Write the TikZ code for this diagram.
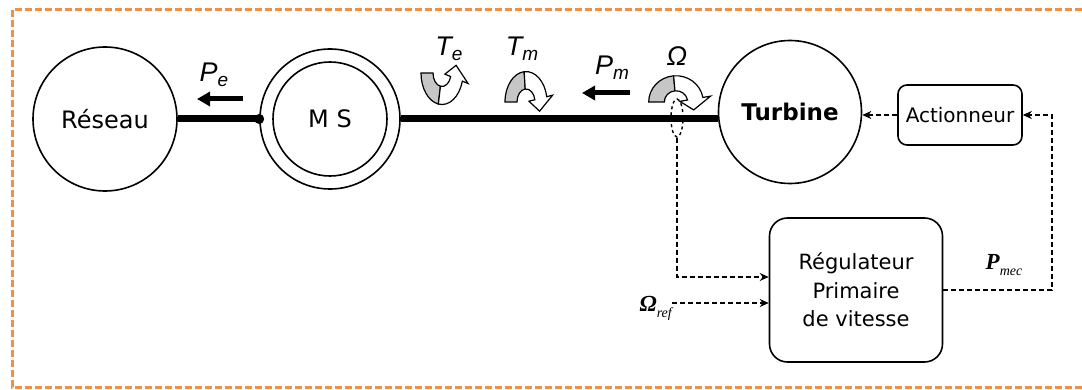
\documentclass[tikz,border=0pt]{standalone}
\usepackage{fontspec}
\setmainfont{DejaVu Sans}
\newfontfamily\lblfont{Liberation Sans}
\newfontfamily\serfont{Liberation Serif}
\usepackage{tikz}
\usetikzlibrary{arrows.meta,shapes.geometric,positioning}
\definecolor{frameorange}{RGB}{238,145,70}
\tikzstyle{bignode}=[circle, draw, line width=1.6pt, inner sep=0pt, font=\fontsize{24}{24}\selectfont]
\tikzstyle{boxnode}=[rectangle, draw, line width=1.6pt, align=center, inner sep=0pt, font=\fontsize{21}{28.5}\selectfont]
\tikzstyle{shaft}=[line width=7pt]
\tikzstyle{ctrl}=[-{Stealth[length=9pt,width=8pt]}, line width=1.5pt, dash pattern=on 5pt off 3pt]
\tikzstyle{powarrow}=[-{Triangle[length=13pt,width=14pt]}, line width=5pt]
\tikzstyle{lbl}=[inner sep=0pt, font=\lblfont\itshape\fontsize{27}{27}\selectfont]
\tikzstyle{reflbl}=[inner sep=0pt, font=\serfont\bfseries\itshape\fontsize{23}{23}\selectfont]
\newcommand{\lowidx}[1]{\raisebox{-5pt}{\fontsize{19}{19}\selectfont #1}}
\newcommand{\lowsmall}[1]{\raisebox{-6pt}{\mdseries\fontsize{14}{14}\selectfont #1}}
% curved torque arrow: scope options, start angle, grey/white split, end angle
\newcommand{\torquearrow}[4]{%
  \begin{scope}[#1, line width=1.2pt]
    \filldraw[fill=gray!45] (#2:21) arc[start angle=#2, end angle=#3, radius=21]
      -- (#3:9) arc[start angle=#3, end angle=#2, radius=9] -- cycle;
    \filldraw[fill=white] (#3:21) arc[start angle=#3, end angle=#4, radius=21]
      -- (#4:27) -- (#4-35:15) -- (#4:3) -- (#4:9)
      arc[start angle=#4, end angle=#3, radius=9] -- cycle;
  \end{scope}}

\begin{document}
\begin{tikzpicture}[x=1pt, y=1pt]
  \useasboundingbox (0,0) rectangle (1082,389);
  \draw[frameorange, line width=3pt, dash pattern=on 7pt off 3pt]
    (1082,379) -- (12,379) -- (12,2) -- (1082,2);

  % machines
  \node[bignode, minimum size=144pt] (res) at (105,270) {Réseau};
  \node[bignode, minimum size=140pt] (ms) at (330,270) {};
  \node[bignode, minimum size=114pt] (msin) at (330,270) {M S};
  \node[bignode, minimum size=143pt, font=\bfseries\fontsize{23}{23}\selectfont] (turb) at (790,277) {Turbine};
  \node[boxnode, rounded corners=9pt, minimum width=124pt, minimum height=60pt, font=\fontsize{20}{20}\selectfont] (act) at (960,274) {Actionneur};
  \node[boxnode, rounded corners=18pt, minimum width=173pt, minimum height=144pt] (reg) at (856,99) {Régulateur\\Primaire\\de vitesse};

  % shaft
  \draw[shaft] (res.east) -- (ms.west);
  \fill (ms.west) circle (5pt);
  \draw[shaft] (ms.east) -- (ms.east -| turb.west);
  \node[draw, dashed, ellipse, line width=1.4pt, minimum width=12pt, minimum height=38pt, inner sep=0pt] (sens) at (677,271) {};

  % powers
  \coordinate (pe1) at (243,290);
  \coordinate (pe2) at (197,290);
  \draw[powarrow] (pe1) -- (pe2);
  \node[lbl] (pe) at (214,314) {P\lowidx{e}};
  \coordinate (pm1) at (630,296);
  \coordinate (pm2) at (582,296);
  \draw[powarrow] (pm1) -- (pm2);
  \node[lbl] (pm) at (612,321) {P\lowidx{m}};

  % torques
  \torquearrow{shift={(442,316)}, yscale=-1.5}{180}{100}{15}
  \node[lbl] (te) at (449,340) {T\lowidx{e}};
  \torquearrow{shift={(526,287)}, yscale=1.45}{180}{95}{10}
  \node[lbl] (tm) at (522,340) {T\lowidx{m}};
  \torquearrow{shift={(676,287)}, xscale=1.3, yscale=1.25}{180}{95}{10}
  \node[lbl] (om) at (677,333) {Ω};

  % control loop
  \draw[ctrl] (act.west) -- (act.west -| turb.east);
  \coordinate (fbc) at (1052,200);
  \draw[ctrl] (reg.east) -- (reg.east -| fbc) -- (act.east -| fbc) -- (act.east);
  \node[reflbl] (pmec) at (1004,124) {P\lowsmall{mec}};
  \coordinate (regin) at ([yshift=13pt]reg.west);
  \draw[ctrl] (sens.south) |- (regin);
  \coordinate (refin) at ([yshift=-13pt]reg.west);
  \node[reflbl, anchor=east] (omref) at (672,81) {Ω\lowsmall{ref}};
  \draw[ctrl] (refin -| omref.east) -- (refin);
\end{tikzpicture}
\end{document}
